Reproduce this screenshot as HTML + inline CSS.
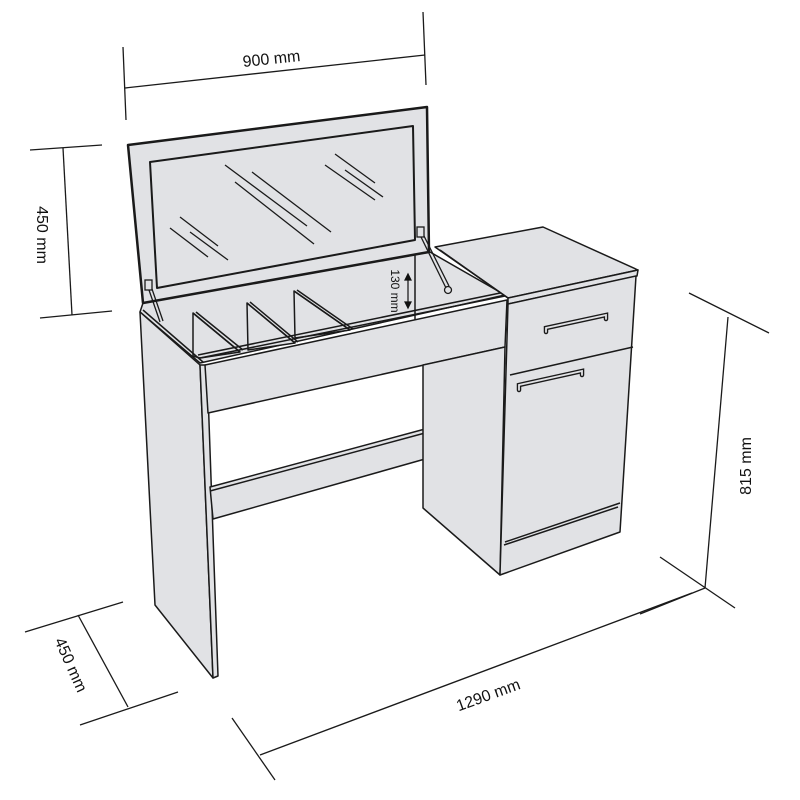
<!DOCTYPE html>
<html><head><meta charset="utf-8"><style>
html,body{margin:0;padding:0;background:#fff;width:800px;height:800px;overflow:hidden}
svg{display:block}
text{font-family:"Liberation Sans",sans-serif;font-size:16px;fill:#111}
</style></head><body>
<svg width="800" height="800" viewBox="0 0 800 800" xmlns="http://www.w3.org/2000/svg">
<g stroke="#1a1a1a" stroke-width="1.5" fill="#e1e2e5" stroke-linejoin="round">
<polygon points="143,303 430,252 505,295 200,363 140,312"/>
<polygon points="128,145 427,107 429,252 143,303" stroke-width="2.5"/>
<polygon points="150,162 413,126 415,240 157,288" stroke-width="2"/>
<line x1="415" y1="255" x2="415" y2="320"/>
<polygon points="193,313 240,352 200,358 193,356"/>
<line x1="193" y1="313" x2="240" y2="352"/><line x1="196" y1="312" x2="243" y2="350"/>
<polygon points="247,303 295,343 248,350"/>
<line x1="247" y1="303" x2="295" y2="343"/><line x1="250" y1="302" x2="298" y2="342"/>
<polygon points="294,291 350,330 295,338"/>
<line x1="294" y1="291" x2="350" y2="330"/><line x1="297" y1="290" x2="353" y2="329"/>
<line x1="198" y1="355" x2="505" y2="292" />
<line x1="200" y1="358" x2="505" y2="296" />
<polygon points="140,312 200,365 213,678 155,605"/>
<line x1="143" y1="310" x2="203" y2="362"/>
<polygon points="200,365 207,365 218,676 213,678"/>
<polygon points="205,365 507,300 505,347 208,413"/>
<polygon points="210,487 425,429 425,459 213,519"/>
<line x1="210" y1="491" x2="425" y2="433"/>
<polygon points="423,365 505,347 500,575 423,508"/>
<polygon points="435,247 543,227 638,270 508,298"/>
<polygon points="508,298 638,270 637,276 508,304"/>
<line x1="440" y1="250" x2="508" y2="298"/>
<polygon points="508,304 636,276 620,532 500,575"/>
<line x1="510" y1="375" x2="633" y2="347"/>
<line x1="505" y1="542" x2="620" y2="503"/>
<line x1="504" y1="545" x2="618" y2="507"/>
</g>
<g stroke="#1a1a1a" stroke-width="1.3">
<line x1="170" y1="228" x2="208" y2="257"/><line x1="180" y1="217" x2="218" y2="246"/><line x1="190" y1="232" x2="228" y2="260"/>
<line x1="225" y1="165" x2="307" y2="226"/><line x1="235" y1="182" x2="314" y2="244"/><line x1="252" y1="172" x2="331" y2="232"/>
<line x1="325" y1="165" x2="375" y2="200"/><line x1="335" y1="154" x2="375" y2="183"/><line x1="345" y1="170" x2="383" y2="197"/>
</g>
<g stroke="#1a1a1a" stroke-width="1.3" fill="#e1e2e5">
<rect x="145" y="280" width="7" height="10"/>
<line x1="149" y1="290" x2="160" y2="322"/><line x1="152" y1="289" x2="163" y2="321"/>
<rect x="417" y="227" width="7" height="10"/>
<line x1="421" y1="237" x2="446" y2="288"/><line x1="424" y1="236" x2="449" y2="286"/>
<circle cx="448" cy="290" r="3.5"/>
</g>
<g fill="none" stroke="#1a1a1a" stroke-width="4.5" stroke-linecap="round">
<path d="M546,332 L546,328 L606,315 L606,319"/>
<path d="M519,390 L519,385 L582,371 L582,375"/>
</g>
<g fill="none" stroke="#e1e2e5" stroke-width="1.8" stroke-linecap="round">
<path d="M546,332 L546,328 L606,315 L606,319"/>
<path d="M519,390 L519,385 L582,371 L582,375"/>
</g>
<g stroke="#111" stroke-width="1.2" fill="#111">
<line x1="408" y1="277" x2="408" y2="305"/>
<polygon points="405,280 411,280 408,274"/><polygon points="405,302 411,302 408,308"/>
</g>
<text transform="translate(391,291) rotate(90)" text-anchor="middle" style="font-size:12px">130 mm</text>
<g stroke="#1a1a1a" stroke-width="1.3">
<line x1="123" y1="47" x2="126" y2="120"/><line x1="423" y1="12" x2="426" y2="85"/><line x1="125" y1="88" x2="425" y2="55"/>
<line x1="30" y1="150" x2="102" y2="145"/><line x1="40" y1="318" x2="112" y2="311"/><line x1="63" y1="148" x2="72" y2="315"/>
<line x1="689" y1="293" x2="769" y2="333"/><line x1="728" y1="317" x2="705" y2="588"/><line x1="660" y1="557" x2="735" y2="608"/>
<line x1="705" y1="588" x2="640" y2="614"/>
<line x1="232" y1="718" x2="275" y2="780"/><line x1="260" y1="755" x2="692" y2="593"/>
<line x1="25" y1="632" x2="123" y2="602"/><line x1="80" y1="725" x2="178" y2="692"/><line x1="78" y1="615" x2="128" y2="707"/>
</g>
<text transform="translate(272,64) rotate(-6)" text-anchor="middle">900 mm</text>
<text transform="translate(37,235) rotate(90)" text-anchor="middle">450 mm</text>
<text transform="translate(751,466) rotate(-90)" text-anchor="middle">815 mm</text>
<text transform="translate(490,700) rotate(-20)" text-anchor="middle">1290 mm</text>
<text transform="translate(66,667) rotate(66)" text-anchor="middle">450 mm</text>
</svg>
</body></html>
